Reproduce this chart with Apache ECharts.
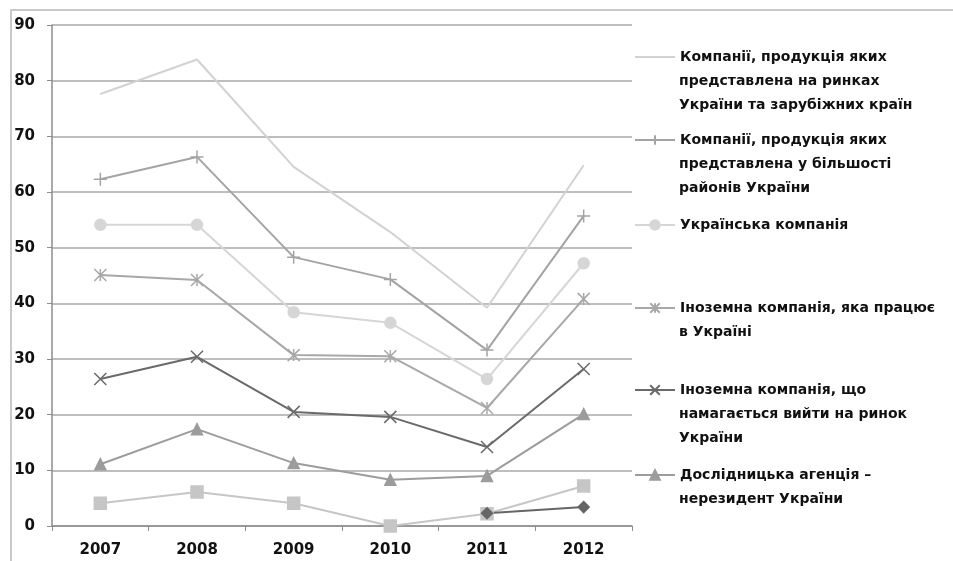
<!DOCTYPE html>
<html>
<head>
<meta charset="utf-8">
<script src="https://cdn.jsdelivr.net/npm/echarts@6/dist/echarts.min.js"></script>
<style>
html,body{margin:0;padding:0;background:#fff;}
#chart{width:953px;height:561px;}
</style>
</head>
<body>
<div id="chart"></div>
<script>
// Years on the category axis
const years = ['2007', '2008', '2009', '2010', '2011', '2012'];

// Series names (line breaks as shown in the legend)
const nameA = 'Компанії, продукція яких\nпредставлена на ринках\nУкраїни та зарубіжних країн';
const nameB = 'Компанії, продукція яких\nпредставлена у більшості\nрайонів України';
const nameC = 'Українська компанія';
const nameD = 'Іноземна компанія, яка працює\nв Україні';
const nameE = 'Іноземна компанія, що\nнамагається вийти на ринок\nУкраїни';
const nameF = 'Дослідницька агенція –\nнерезидент України';
const nameG = 'Інше';
const nameH = 'Важко відповісти';

// Values per series, %
const valuesA = [77.6, 83.8, 64.5, 52.8, 39.2, 64.8];
const valuesB = [62.3, 66.3, 48.3, 44.3, 31.6, 55.7];
const valuesC = [54.1, 54.1, 38.4, 36.5, 26.4, 47.2];
const valuesD = [45.1, 44.2, 30.7, 30.5, 21.2, 40.8];
const valuesE = [26.4, 30.4, 20.5, 19.6, 14.2, 28.2];
const valuesF = [11.1, 17.4, 11.3, 8.3, 9.0, 20.1];
const valuesG = [4.1, 6.1, 4.1, 0.0, 2.2, 7.2];
const valuesH = [null, null, null, null, 2.3, 3.4];

// Y axis range
const yMin = 0, yMax = 90, yStep = 10;

const FONT = 'DejaVu Sans, Verdana, sans-serif';
const plusPath = 'path://M0,5L10,5M5,0L5,10';
const crossPath = 'path://M0,0L10,10M10,0L0,10';
const starPath = 'path://M0,0L10,10M10,0L0,10M5,0L5,10';
const clear = 'rgba(0,0,0,0)';

function lineSeries(name, data, color, symbol, size) {
  return {
    name: name,
    type: 'line',
    data: data,
    symbol: symbol,
    symbolSize: size,
    showSymbol: symbol !== 'none',
    connectNulls: false,
    lineStyle: { color: color, width: 2 },
    itemStyle: { color: color, borderColor: color, borderWidth: 1.5 },
    emphasis: { disabled: true },
    animation: false
  };
}

// Legend: one block per entry, first line beside the icon, the rest below it
const legendNames = [nameA, nameB, nameC, nameD, nameE, nameF];
const legendRowY = [57, 140, 225, 308, 390, 475];
const legendLineH = 24;
const legendTextX = 679;
const legendFontSize = 14;

const legendBlocks = legendNames.map(function (n, i) {
  return {
    // the first series has no markers, so its key is a bare line
    data: [i === 0 ? { name: n, itemStyle: { color: clear, borderColor: clear, borderWidth: 0 } } : n],
    left: 634,
    top: legendRowY[i] - 12,
    padding: 0,
    itemWidth: 40,
    itemHeight: 12,
    itemGap: 0,
    selectedMode: false,
    formatter: function (s) { return s.split('\n')[0]; },
    textStyle: {
      fontFamily: FONT,
      fontSize: legendFontSize,
      fontWeight: 'bold',
      color: '#111',
      lineHeight: 24
    }
  };
});

const legendExtraLines = [];
legendNames.forEach(function (n, i) {
  n.split('\n').slice(1).forEach(function (line, k) {
    legendExtraLines.push({
      type: 'text',
      silent: true,
      style: {
        text: line,
        x: legendTextX,
        y: legendRowY[i] + legendLineH * (k + 1),
        verticalAlign: 'middle',
        fontFamily: FONT,
        fontSize: legendFontSize,
        fontWeight: 'bold',
        fill: '#111'
      }
    });
  });
});

const chart = echarts.init(document.getElementById('chart'), null, { renderer: 'canvas' });
chart.setOption({
  backgroundColor: '#fff',
  animation: false,
  graphic: [{
    type: 'rect',
    silent: true,
    shape: { x: 11, y: 10, width: 1000, height: 700 },
    style: { fill: 'none', stroke: '#b8b8b8', lineWidth: 1.5 }
  }].concat(legendExtraLines),
  grid: { left: 52, right: 321, top: 25, bottom: 35, containLabel: false },
  legend: legendBlocks,
  xAxis: {
    type: 'category',
    data: years,
    boundaryGap: true,
    axisLine: { lineStyle: { color: '#8c8c8c', width: 1.5 } },
    axisTick: { show: true, length: 5, lineStyle: { color: '#8c8c8c' } },
    axisLabel: {
      margin: 17,
      fontFamily: FONT,
      fontSize: 15,
      fontWeight: 'bold',
      color: '#111'
    },
    splitLine: { show: false }
  },
  yAxis: {
    type: 'value',
    min: yMin,
    max: yMax,
    interval: yStep,
    axisLine: { show: true, lineStyle: { color: '#8c8c8c', width: 1.5 } },
    axisTick: { show: true, length: 5, lineStyle: { color: '#8c8c8c' } },
    axisLabel: {
      margin: 17,
      fontFamily: FONT,
      fontSize: 15,
      fontWeight: 'bold',
      color: '#111'
    },
    splitLine: { show: true, lineStyle: { color: '#a8a8a8', width: 1.5 } }
  },
  series: [
    lineSeries(nameA, valuesA, '#d2d2d2', 'none', 0),
    lineSeries(nameB, valuesB, '#a4a4a4', plusPath, 13),
    lineSeries(nameC, valuesC, '#d6d6d6', 'circle', 11),
    lineSeries(nameD, valuesD, '#a8a8a8', starPath, 12),
    lineSeries(nameE, valuesE, '#6a6a6a', crossPath, 12),
    lineSeries(nameF, valuesF, '#9c9c9c', 'triangle', 11),
    lineSeries(nameG, valuesG, '#c6c6c6', 'rect', 12),
    lineSeries(nameH, valuesH, '#666666', 'diamond', 11)
  ]
});
</script>
</body>
</html>
